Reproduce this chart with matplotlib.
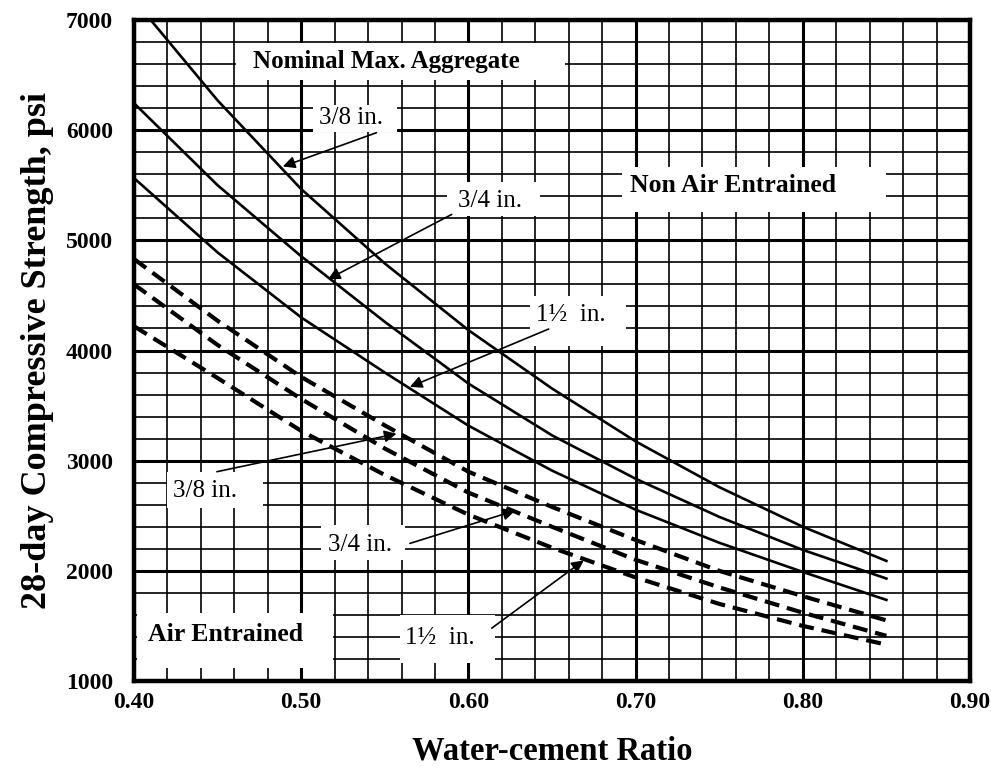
import numpy as np
import matplotlib
matplotlib.use("Agg")
import matplotlib.pyplot as plt
from matplotlib.ticker import MultipleLocator
from matplotlib.patches import Rectangle

plt.rcParams['font.family'] = ['Liberation Serif', 'DejaVu Serif']

# water-cement ratio values
wc = [0.40, 0.45, 0.50, 0.55, 0.60, 0.65, 0.70, 0.75, 0.80, 0.85]
wc_38 = [0.41, 0.45, 0.50, 0.55, 0.60, 0.65, 0.70, 0.75, 0.80, 0.85]

# non air entrained (solid)
non_38 = [7000, 6270, 5465, 4790, 4185, 3655, 3175, 2760, 2400, 2090]
non_34 = [6245, 5500, 4855, 4260, 3700, 3230, 2836, 2490, 2190, 1930]
non_112 = [5565, 4890, 4300, 3800, 3318, 2910, 2555, 2255, 1990, 1736]

# air entrained (dashed)
air_38 = [4830, 4270, 3760, 3320, 2900, 2580, 2280, 2000, 1770, 1550]
air_34 = [4600, 4050, 3560, 3110, 2710, 2400, 2100, 1850, 1620, 1410]
air_112 = [4220, 3750, 3270, 2870, 2510, 2210, 1940, 1700, 1500, 1330]

xticks = [0.40, 0.50, 0.60, 0.70, 0.80, 0.90]
yticks = [1000, 2000, 3000, 4000, 5000, 6000, 7000]

fig = plt.figure(figsize=(9.91, 7.72), dpi=100)
ax = fig.add_axes([134 / 991, 1 - 681 / 772, 836 / 991, 661 / 772])

ax.set_xlim(0.40, 0.90)
ax.set_ylim(1000, 7000)
ax.set_xticks(xticks)
ax.set_xticklabels(["%.2f" % v for v in xticks])
ax.set_yticks(yticks)
ax.xaxis.set_minor_locator(MultipleLocator(0.02))
ax.yaxis.set_minor_locator(MultipleLocator(200))
ax.grid(which="major", color="black", lw=2.2, zorder=0)
ax.grid(which="minor", color="black", lw=1.2, zorder=0)
ax.set_axisbelow(True)
ax.tick_params(which="both", length=0)
ax.tick_params(axis="x", pad=8, labelsize=17)
ax.tick_params(axis="y", pad=15, labelsize=17)
for lab in ax.get_xticklabels() + ax.get_yticklabels():
    lab.set_fontweight("bold")
for sp in ax.spines.values():
    sp.set_linewidth(3.2)
    sp.set_zorder(6)

for ys, xs in [(non_38, wc_38), (non_34, wc), (non_112, wc)]:
    ax.plot(xs, ys, color="black", lw=1.9, zorder=3)
for ys in [air_38, air_34, air_112]:
    ax.plot(wc, ys, color="black", lw=3.0, dashes=(3.6, 1.9), zorder=3)

ax.set_xlabel("Water-cement Ratio", fontsize=23.5, fontweight="bold", labelpad=16)
ax.set_ylabel("28-day Compressive Strength, psi", fontsize=26, fontweight="bold", labelpad=9)

arrow = dict(arrowstyle="-|>", color="black", lw=1.2, mutation_scale=18,
             shrinkA=0, shrinkB=0)


def label(text, x, y, box, size, weight="normal"):
    x0, x1, y0, y1 = box
    ax.add_patch(Rectangle((x0, y0), x1 - x0, y1 - y0, facecolor="white",
                           edgecolor="none", zorder=4))
    ax.text(x, y, text, fontsize=size, fontweight=weight, ha="center",
            va="center", zorder=5)


label("Nominal Max. Aggregate", 0.551, 6620, (0.461, 0.658, 6457, 6792), 18, "bold")
label("Non Air Entrained", 0.758, 5498, (0.692, 0.850, 5253, 5670), 18.5, "bold")
label("Air Entrained", 0.455, 1425, (0.402, 0.519, 1118, 1615), 18.5, "bold")

label("3/8 in.", 0.530, 6113, (0.507, 0.557, 5986, 6231), 18)
label("3/4 in.", 0.613, 5353, (0.587, 0.643, 5217, 5525), 18)
label("1\u00bd  in.", 0.661, 4321, (0.637, 0.694, 4041, 4493), 18)
label("3/8 in.", 0.4425, 2729, (0.420, 0.477, 2566, 2900), 18)
label("3/4 in.", 0.535, 2231, (0.512, 0.562, 2095, 2412), 18)
label("1\u00bd  in.", 0.583, 1389, (0.559, 0.616, 1160, 1600), 18)

# arrows: (tip on curve, start at label box)
arrows = [((0.489, 5670), (0.545, 5977)),
          ((0.516, 4647), (0.590, 5235)),
          ((0.565, 3670), (0.648, 4195)),
          ((0.557, 3244), (0.4496, 2900)),
          ((0.628, 2547), (0.565, 2249)),
          ((0.669, 2095), (0.614, 1480))]
for tip, start in arrows:
    ax.annotate("", xy=tip, xytext=start, arrowprops=arrow, zorder=5)

fig.savefig("out.png", dpi=100)
